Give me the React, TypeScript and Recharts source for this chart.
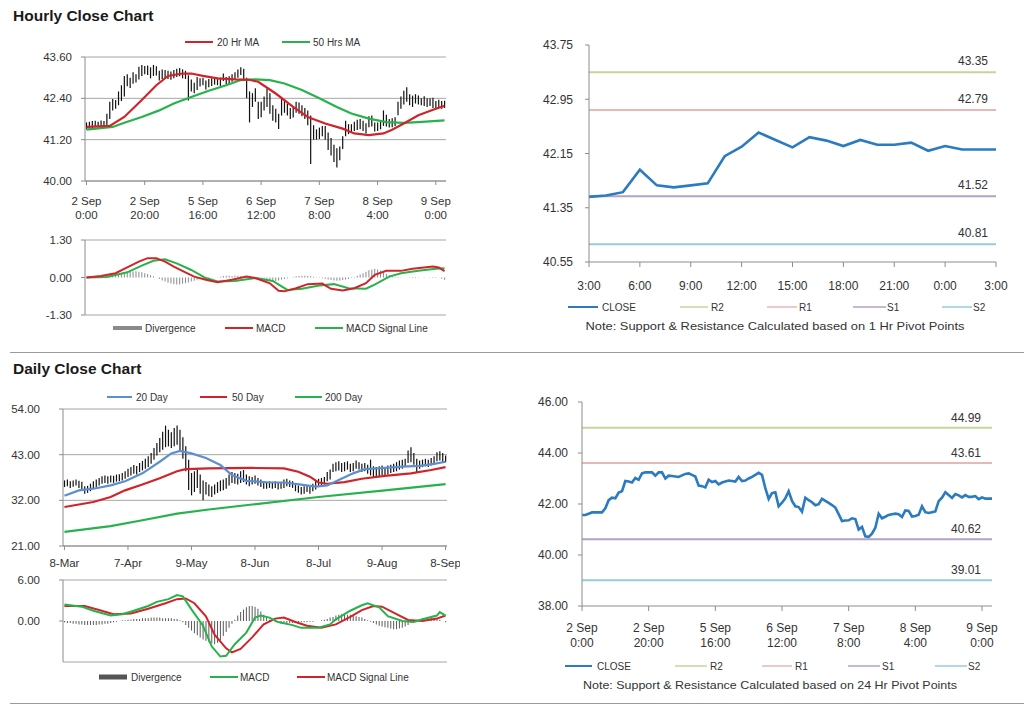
import React from 'react';
import { ComposedChart, LineChart, Line, Bar, XAxis, YAxis, CartesianGrid, ReferenceLine } from 'recharts';

// ---------------- DATA ----------------
const hourlyClose = [
  41.57, 41.57, 41.62, 41.67, 41.67, 41.67, 41.67, 41.83, 42.15, 42.25,
  42.22, 42.45, 42.5, 42.9, 42.88, 42.84, 43.02, 42.95, 43.2, 43.24,
  43.24, 43.24, 43.11, 43.24, 43.24, 43.0, 43.11, 43.1, 43.08, 43.06,
  43.12, 43.18, 43.2, 43.14, 43.08, 42.72, 42.7, 42.65, 42.95, 42.86,
  42.9, 42.77, 42.84, 42.88, 42.92, 42.9, 42.88, 43.06, 42.9, 42.92,
  43.0, 43.06, 43.14, 43.22, 43.14, 42.62, 42.2, 42.43, 42.46, 41.91,
  42.05, 42.22, 42.5, 42.12, 41.91, 41.88, 41.7, 42.25, 42.15, 42.07,
  41.95, 41.99, 42.2, 42.12, 42.04, 41.96, 41.86, 41.6, 41.33, 41.35,
  41.36, 41.44, 41.41, 41.0, 41.1, 40.73, 40.71, 40.84, 41.07, 41.62,
  41.44, 41.5, 41.57, 41.6, 41.62, 41.6, 41.49, 41.75, 41.73,
  41.51, 41.53, 41.58, 41.91, 41.68, 41.65, 41.68, 41.71, 42.11, 42.25,
  42.46, 42.35, 42.24, 42.39, 42.34, 42.26, 42.35, 42.28, 42.28, 42.31,
  42.19, 42.26, 42.21, 42.21, 42.21,
];
const hourlyHigh = [
  41.7, 41.72, 41.74, 41.75, 41.72, 41.76, 41.74, 41.95, 42.3, 42.38,
  42.35, 42.6, 42.78, 43.05, 43.1, 43.0, 43.16, 43.1, 43.32, 43.37,
  43.34, 43.35, 43.3, 43.37, 43.33, 43.2, 43.24, 43.22, 43.2, 43.18,
  43.22, 43.26, 43.28, 43.24, 43.2, 43.07, 42.95, 42.85, 43.02, 42.98,
  43.0, 42.92, 42.96, 42.98, 43.02, 43.0, 43.0, 43.12, 43.02, 43.04,
  43.1, 43.16, 43.24, 43.3, 43.26, 43.0, 42.6, 42.55, 42.69, 42.3,
  42.3, 42.45, 42.68, 42.55, 42.2, 42.1, 41.95, 42.4, 42.38, 42.25,
  42.12, 42.15, 42.3, 42.28, 42.2, 42.12, 42.05, 41.9, 41.62, 41.5,
  41.55, 41.6, 41.6, 41.41, 41.25, 41.05, 40.95, 41.0, 41.3, 41.75,
  41.65, 41.65, 41.72, 41.78, 41.8, 41.75, 41.68, 41.88, 41.9, 41.7,
  41.7, 41.72, 42.05, 41.92, 41.8, 41.82, 41.85, 42.3, 42.45, 42.62,
  42.72, 42.52, 42.48, 42.52, 42.48, 42.4, 42.46, 42.4, 42.4, 42.42,
  42.32, 42.36, 42.32, 42.33,
];
const hourlyLow = [
  41.5, 41.52, 41.52, 41.56, 41.58, 41.56, 41.58, 41.62, 41.8, 42.05,
  42.1, 42.2, 42.32, 42.45, 42.75, 42.7, 42.82, 42.86, 42.95, 43.05,
  43.1, 43.08, 42.98, 43.05, 43.06, 42.92, 42.96, 42.98, 42.96, 42.94,
  42.98, 43.02, 43.04, 42.98, 42.96, 42.34, 42.6, 42.55, 42.64, 42.74,
  42.78, 42.66, 42.72, 42.76, 42.8, 42.78, 42.76, 42.9, 42.8, 42.8,
  42.88, 42.94, 43.0, 43.08, 42.95, 42.4, 41.7, 42.15, 42.3, 41.8,
  41.85, 42.05, 42.15, 41.95, 41.75, 41.7, 41.51, 41.9, 41.98, 41.9,
  41.8, 41.84, 41.98, 41.95, 41.88, 41.8, 41.62, 40.49, 41.2, 41.2,
  41.22, 41.3, 41.2, 40.9, 40.74, 40.55, 40.39, 40.6, 40.93, 41.3,
  41.36, 41.4, 41.45, 41.48, 41.5, 41.45, 41.38, 41.56, 41.58, 41.44,
  41.45, 41.5, 41.6, 41.58, 41.55, 41.56, 41.6, 41.91, 42.1, 42.22,
  42.3, 42.2, 42.15, 42.25, 42.22, 42.2, 42.18, 42.15, 42.18, 42.12,
  42.08, 42.12, 42.1, 42.12,
];
// [hour index, value]
const hourlyMa20 = [
  [0, 41.57], [8, 41.6], [13, 41.86], [19, 42.35], [24, 42.78], [28, 43.05], [33, 43.12],
  [36, 43.12], [40, 43.05], [45, 42.98], [51, 42.95], [56, 42.94], [59, 42.88], [65, 42.54],
  [71, 42.15], [76, 41.86], [82, 41.67], [88, 41.52], [92, 41.38], [97, 41.33], [102, 41.38],
  [105, 41.49], [109, 41.67], [114, 41.91], [120, 42.1], [123, 42.18],
];
const hourlyMa50 = [
  [0, 41.49], [9, 41.57], [13, 41.69], [19, 41.86], [25, 42.05], [30, 42.25], [36, 42.44],
  [42, 42.62], [48, 42.78], [53, 42.93], [58, 42.95], [63, 42.93], [68, 42.83], [74, 42.64],
  [80, 42.4], [86, 42.15], [91, 41.96], [97, 41.81], [103, 41.71], [109, 41.69], [114, 41.71],
  [123, 41.76],
];
const hourlyMacd = [
  [0, 0], [5, 0.05], [10, 0.15], [14, 0.35], [18, 0.55], [21, 0.67], [24, 0.67], [27, 0.55],
  [30, 0.38], [34, 0.18], [37, 0.03], [41, -0.08], [45, -0.16], [50, -0.08], [55, 0.03],
  [58, -0.02], [63, -0.2], [66, -0.46], [68, -0.48], [72, -0.37], [76, -0.23], [81, -0.21],
  [84, -0.39], [88, -0.45], [92, -0.37], [96, -0.2], [99, 0.09], [103, 0.23], [108, 0.23],
  [112, 0.3], [119, 0.38], [121, 0.35], [123, 0.22],
];
const hourlySignal = [
  [0, 0], [7, 0.02], [14, 0.18], [19, 0.41], [23, 0.58], [27, 0.63], [31, 0.49], [36, 0.26],
  [41, -0.02], [45, -0.14], [51, -0.12], [58, -0.02], [64, -0.12], [69, -0.43], [74, -0.39],
  [80, -0.28], [85, -0.23], [90, -0.37], [96, -0.39], [99, -0.25], [104, 0.03], [108, 0.15],
  [114, 0.23], [120, 0.3], [123, 0.32],
];
const hourlyDivergence = [
  0, 0.01, 0.02, 0.02, 0.03, 0.03, 0.04, 0.05, 0.06, 0.08,
  0.1, 0.12, 0.14, 0.16, 0.18, 0.2, 0.21, 0.22, 0.2, 0.18,
  0.15, 0.12, 0.08, 0.04, 0, -0.05, -0.1, -0.14, -0.18, -0.21,
  -0.23, -0.24, -0.24, -0.22, -0.2, -0.17, -0.14, -0.11, -0.08, -0.06,
  -0.05, -0.03, -0.02, -0.01, 0, 0.01, 0.03, 0.05, 0.06, 0.06,
  0.05, 0.06, 0.06, 0.05, 0.04, 0.03, 0.01, 0, -0.02, -0.04,
  -0.06, -0.08, -0.1, -0.12, -0.13, -0.12, -0.1, -0.07, -0.05, -0.03,
  0, 0.02, 0.04, 0.05, 0.06, 0.06, 0.05, 0.04, 0.03, 0.01,
  -0.01, -0.03, -0.05, -0.07, -0.09, -0.1, -0.11, -0.1, -0.09, -0.07,
  -0.05, -0.02, 0.02, 0.06, 0.1, 0.15, 0.2, 0.25, 0.28, 0.3,
  0.28, 0.24, 0.18, 0.12, 0.08, 0.05, 0.03, 0.02, 0.01, 0,
  0, 0.01, 0.02, 0.02, 0.01, 0, -0.01, 0, 0.01, 0.02,
  0.02, 0, -0.04, -0.08,
];
const lastDayClose = [
  41.51, 41.53, 41.58, 41.91, 41.68, 41.65, 41.68, 41.71, 42.11, 42.25,
  42.46, 42.35, 42.24, 42.39, 42.34, 42.26, 42.35, 42.28, 42.28, 42.31,
  42.19, 42.26, 42.21, 42.21, 42.21,
];
const dailyHigh = [
  36.8, 37.0, 36.6, 36.8, 37.0, 36.7, 36.5, 35.4, 35.5, 36.0,
  36.6, 37.0, 37.4, 37.8, 38.0, 37.8, 38.0, 37.9, 38.2, 38.3,
  38.6, 39.0, 39.6, 40.0, 40.5, 40.3, 41.0, 41.5, 42.0, 42.6,
  43.4, 44.6, 45.8, 47.0, 48.5, 50.0, 49.0, 48.4, 49.4, 50.0,
  49.0, 47.2, 45.0, 41.8, 38.6, 39.0, 39.6, 38.2, 36.8, 36.4,
  35.8, 35.4, 35.8, 36.4, 36.8, 37.0, 37.4, 38.2, 38.8, 38.6,
  38.4, 39.0, 39.3, 38.2, 37.8, 37.6, 38.0, 37.4, 37.0, 36.6,
  36.4, 36.6, 36.5, 36.6, 36.2, 36.4, 37.0, 37.2, 36.8, 36.6,
  36.0, 35.6, 35.2, 35.4, 35.6, 35.2, 36.0, 36.8, 37.2, 37.4,
  37.6, 38.8, 39.4, 40.8, 41.2, 41.4, 41.0, 41.2, 41.4, 40.8,
  41.0, 41.6, 41.2, 40.8, 41.0, 40.6, 41.8, 40.2, 40.0, 40.2,
  40.4, 40.0, 40.4, 40.6, 40.8, 41.2, 41.6, 41.8, 42.0, 44.0,
  44.8, 43.4, 42.0, 41.6, 41.8, 42.0, 41.8, 42.2, 42.6, 43.6,
  43.8, 43.4, 42.8,
];
const dailyLow = [
  35.2, 35.4, 35.0, 35.3, 35.6, 35.0, 34.6, 33.6, 33.8, 34.2,
  34.8, 35.2, 35.6, 36.0, 36.2, 36.0, 36.3, 36.2, 36.5, 36.6,
  36.8, 37.2, 37.6, 38.0, 38.4, 38.2, 38.8, 39.2, 39.6, 40.0,
  40.8, 41.8, 42.8, 43.6, 44.2, 44.8, 45.0, 44.6, 45.0, 45.4,
  43.8, 42.0, 39.0, 34.5, 33.2, 34.0, 35.0, 33.6, 32.0, 33.4,
  33.0, 32.8, 33.4, 33.8, 34.2, 34.4, 34.8, 35.6, 36.2, 36.0,
  35.8, 36.2, 36.4, 35.8, 35.4, 35.8, 36.0, 35.6, 35.2, 34.8,
  34.8, 35.0, 34.8, 35.0, 34.6, 34.8, 35.0, 35.4, 35.2, 35.0,
  34.2, 33.8, 33.4, 33.6, 34.0, 33.6, 34.2, 34.6, 35.2, 35.6,
  35.8, 36.6, 37.0, 38.8, 39.0, 39.2, 38.8, 39.0, 39.4, 38.8,
  39.0, 39.6, 39.4, 38.8, 39.0, 38.4, 38.0, 37.6, 37.8, 37.6,
  38.0, 37.8, 38.2, 38.6, 38.8, 39.0, 39.4, 39.6, 40.0, 41.0,
  41.2, 40.6, 38.8, 39.6, 40.0, 40.2, 40.0, 40.4, 40.6, 41.4,
  41.6, 41.0, 41.2,
];
// [day index, value]
const dailyMa20 = [
  [0, 33.1], [5, 34.4], [10, 34.8], [16, 35.6], [21, 36.6], [27, 38.5], [33, 41.3], [37, 43.3],
  [40, 43.9], [44, 43.3], [49, 42.2], [54, 40.5], [58, 38.1], [63, 36.7], [71, 36.3], [76, 36.3],
  [82, 35.8], [87, 35.3], [91, 35.6], [95, 36.9], [100, 38.5], [104, 39.5], [111, 39.8],
  [117, 40.1], [123, 40.3], [128, 40.8], [132, 41.3],
];
const dailyMa50 = [
  [0, 30.4], [10, 31.6], [16, 32.8], [21, 34.4], [27, 35.8], [33, 37.3], [39, 39.0], [42, 39.5],
  [50, 39.7], [65, 39.8], [76, 39.7], [81, 38.9], [85, 37.7], [88, 36.3], [91, 36.0], [97, 36.4],
  [103, 37.2], [111, 37.9], [120, 38.5], [127, 39.3], [132, 40.0],
];
const dailyMa200 = [
  [0, 24.4], [16, 25.8], [27, 27.2], [39, 28.8], [50, 29.8], [65, 31.0], [88, 32.8], [111, 34.4],
  [132, 35.9],
];
const dailyMacd = [
  [0, 2.4], [6, 2.1], [10, 1.5], [16, 0.8], [20, 1.0], [24, 1.5], [29, 2.2], [32, 2.8], [36, 3.2],
  [39, 3.8], [41, 3.6], [44, 1.7], [48, -0.7], [51, -3.7], [54, -5.2], [56, -5.1], [59, -3.4],
  [63, -1.7], [66, 0.5], [68, 0.8], [71, 0.5], [74, -0.15], [79, -0.6], [82, -1.0], [88, -1.0],
  [92, -0.5], [94, 0.25], [99, 1.5], [103, 2.3], [105, 2.6], [109, 2.0], [112, 0.7], [117, 0],
  [121, -0.15], [124, 0.25], [129, 0.8], [130, 1.3], [132, 0.8],
];
const dailySignal = [
  [0, 2.2], [7, 2.2], [12, 1.6], [17, 1.0], [23, 1.1], [29, 1.8], [35, 2.6], [39, 3.2], [42, 3.3],
  [45, 2.6], [49, 0.7], [52, -2.0], [56, -4.0], [58, -4.6], [61, -4.1], [65, -2.4], [69, -0.5],
  [73, 0.35], [76, 0.5], [80, -0.15], [84, -0.7], [89, -1.0], [94, -0.5], [99, 0.6], [103, 1.6],
  [107, 2.2], [110, 2.1], [115, 1.0], [119, 0.15], [124, 0], [129, 0.35], [132, 0.8],
];
const dailyDivergence = [
  -0.2, -0.3, -0.3, -0.4, -0.4, -0.5, -0.5, -0.6, -0.6, -0.6,
  -0.6, -0.6, -0.5, -0.5, -0.4, -0.4, -0.3, -0.2, -0.1, 0,
  0.1, 0.1, 0.2, 0.2, 0.3, 0.3, 0.3, 0.4, 0.4, 0.4,
  0.5, 0.5, 0.5, 0.5, 0.4, 0.4, 0.4, 0.4, 0.3, 0.3,
  0.1, -0.2, -0.6, -1.0, -1.4, -1.8, -2.1, -2.4, -2.7, -2.9,
  -3.1, -3.3, -3.4, -3.2, -2.8, -2.2, -1.6, -1.0, -0.4, 0.2,
  0.8, 1.3, 1.7, 2.0, 2.2, 2.2, 2.1, 1.8, 1.4, 0.9,
  0.5, 0.2, 0, -0.2, -0.3, -0.4, -0.4, -0.4, -0.3, -0.3,
  -0.3, -0.3, -0.2, -0.2, -0.2, -0.1, -0.1, 0, 0, 0.1,
  0.2, 0.3, 0.5, 0.6, 0.8, 0.9, 1.0, 1.0, 0.9, 0.9,
  0.8, 0.7, 0.6, 0.5, 0.3, 0.1, -0.1, -0.3, -0.5, -0.7,
  -0.8, -0.9, -1.0, -1.1, -1.2, -1.2, -1.1, -1.0, -0.8, -0.6,
  -0.3, 0, 0.2, 0.3, 0.4, 0.4, 0.5, 0.5, 0.4, 0.4,
  0.2, 0, -0.2,
];
const hourlyPivotValues = [43.35, 42.79, 41.52, 40.81];
const dailyPivotValues = [44.99, 43.61, 40.62, 39.01];
const pivotNames = ['R2', 'R1', 'S1', 'S2'];

const hourlyTickLabels = [
  ['2 Sep', '0:00'], ['2 Sep', '20:00'], ['5 Sep', '16:00'], ['6 Sep', '12:00'],
  ['7 Sep', '8:00'], ['8 Sep', '4:00'], ['9 Sep', '0:00'],
];
const lastDayTickLabels = ['3:00', '6:00', '9:00', '12:00', '15:00', '18:00', '21:00', '0:00', '3:00'];
const dailyTickLabels = ['8-Mar', '7-Apr', '9-May', '8-Jun', '8-Jul', '9-Aug', '8-Sep'];
const hourlyPriceTicks = [40, 41.2, 42.4, 43.6];
const hourlyMacdTicks = [-1.3, 0, 1.3];
const lastDayTicks = [40.55, 41.35, 42.15, 42.95, 43.75];
const dailyPriceTicks = [21, 32, 43, 54];
const dailyMacdTicks = [-6, 0, 6];
const sixDayTicks = [38, 40, 42, 44, 46];

// ---------------- STYLE ----------------
const FONT = '"Liberation Sans", Arial, Helvetica, sans-serif';
const TXT = '#333333';
const GRID = '#a6a6a6';
const AXIS = '#8c8c8c';
const RED = '#d2232a';
const GREEN = '#27b24b';
const BLUE_MA = '#5b8fd1';
const CLOSE_BLUE = '#2a7bc0';
const PIVOT_COLORS = ['#c3d69b', '#e6b9b8', '#b3a2c7', '#93cddd'];

// ---------------- TABLES ----------------
type Row = Record<string, any>;
function addSparse(rows: Row[], key: string, pts: number[][]) {
  rows.forEach((r) => { r[key] = null; });
  pts.forEach(([i, v]) => { if (rows[i]) rows[i][key] = v; });
}
const hourlyRows: Row[] = hourlyClose.map((c, i) => ({
  i, close: c, range: [hourlyLow[i], hourlyHigh[i]], div: hourlyDivergence[i],
}));
addSparse(hourlyRows, 'ma20', hourlyMa20);
addSparse(hourlyRows, 'ma50', hourlyMa50);
addSparse(hourlyRows, 'macd', hourlyMacd);
addSparse(hourlyRows, 'sig', hourlySignal);

const lastDayRows: Row[] = lastDayClose.map((c, i) => ({ i, close: c }));

const dailyRows: Row[] = dailyHigh.map((h, i) => ({ i, range: [dailyLow[i], h], div: dailyDivergence[i] }));
addSparse(dailyRows, 'ma20', dailyMa20);
addSparse(dailyRows, 'ma50', dailyMa50);
addSparse(dailyRows, 'ma200', dailyMa200);
addSparse(dailyRows, 'macd', dailyMacd);
addSparse(dailyRows, 'sig', dailySignal);

const f2 = (v: number) => Number(v).toFixed(2);

function CandleShape(props: any) {
  const { x, y, width, height } = props;
  if (x == null || y == null || isNaN(y)) return <g />;
  const cx = x + width / 2;
  const top = Math.min(y, y + height);
  const bot = Math.max(y, y + height);
  return <line x1={cx} x2={cx} y1={top} y2={bot} stroke="#111" strokeWidth={1.2} />;
}

const twoLineTick = (labels: string[][], step: number, fs: number, d1: number, d2: number) => (props: any) => {
  const { x, y, payload } = props;
  const k = Math.round(Number(payload.value) / step);
  const lab = labels[k];
  if (!lab) return <g />;
  return (
    <text x={x} y={y} textAnchor="middle" fill={TXT} fontSize={fs} fontFamily={FONT}>
      <tspan x={x} dy={d1}>{lab[0]}</tspan>
      <tspan x={x} dy={d2}>{lab[1]}</tspan>
    </text>
  );
};

const pivotLabel = (value: string, dx: number, up: number) => (props: any) => {
  const vb = props.viewBox || {};
  const right = (vb.x ?? 0) + (vb.width ?? 0);
  return (
    <text x={right - dx} y={(vb.y ?? 0) - up} textAnchor="end" fill={TXT} fontSize={12} fontFamily={FONT}>
      {value}
    </text>
  );
};

function Legend() {
  const T = (x: number, y: number, s: string) => (
    <text x={x} y={y + 3.6} fontSize={10} fill={TXT} fontFamily={FONT}>{s}</text>
  );
  const L = (x1: number, x2: number, y: number, c: string, w = 2) => (
    <line x1={x1} x2={x2} y1={y} y2={y} stroke={c} strokeWidth={w} />
  );
  return (
    <svg width={1024} height={706} style={{ position: 'absolute', left: 0, top: 0 }}>
      <text x={13} y={21} fontSize={15.5} fontWeight="bold" fill="#1a1a1a" fontFamily={FONT}>Hourly Close Chart</text>
      <text x={13} y={374} fontSize={15.5} fontWeight="bold" fill="#1a1a1a" fontFamily={FONT}>Daily Close Chart</text>
      <line x1={10} x2={1024} y1={352.5} y2={352.5} stroke="#9a9a9a" strokeWidth={1} />
      <line x1={10} x2={1024} y1={703.5} y2={703.5} stroke="#9a9a9a" strokeWidth={1} />

      {L(185, 213, 42, RED)}{T(217, 42, '20 Hr MA')}
      {L(282, 310, 42, GREEN)}{T(313, 42, '50 Hrs MA')}

      {L(113, 142, 328, '#8a8a8a', 4)}{T(145, 328, 'Divergence')}
      {L(225, 253, 328, RED)}{T(256, 328, 'MACD')}
      {L(315, 343, 328, GREEN)}{T(346, 328, 'MACD Signal Line')}

      {L(568, 598, 307, CLOSE_BLUE)}{T(602, 307, 'CLOSE')}
      {L(680, 708, 307, PIVOT_COLORS[0], 1.5)}{T(711, 307, pivotNames[0])}
      {L(767, 797, 307, PIVOT_COLORS[1], 1.5)}{T(799, 307, pivotNames[1])}
      {L(853, 886, 307, PIVOT_COLORS[2], 1.5)}{T(887, 307, pivotNames[2])}
      {L(942, 972, 307, PIVOT_COLORS[3], 1.5)}{T(973, 307, pivotNames[3])}
      <text x={775} y={330} textAnchor="middle" fontSize={11} fill={TXT} fontFamily={FONT} textLength={379} lengthAdjust="spacingAndGlyphs">Note: Support &amp; Resistance Calculated based on 1 Hr Pivot Points</text>

      {L(107, 132, 397, BLUE_MA)}{T(136, 397, '20 Day')}
      {L(200, 227, 397, RED)}{T(232, 397, '50 Day')}
      {L(295, 322, 397, GREEN)}{T(325, 397, '200 Day')}

      {L(99, 127, 677, '#555555', 5)}{T(131, 677, 'Divergence')}
      {L(210, 238, 677, GREEN)}{T(240, 677, 'MACD')}
      {L(297, 325, 677, RED)}{T(327, 677, 'MACD Signal Line')}

      {L(565, 592, 666, CLOSE_BLUE)}{T(597, 666, 'CLOSE')}
      {L(675, 707, 666, PIVOT_COLORS[0], 1.5)}{T(710, 666, pivotNames[0])}
      {L(762, 792, 666, PIVOT_COLORS[1], 1.5)}{T(795, 666, pivotNames[1])}
      {L(848, 880, 666, PIVOT_COLORS[2], 1.5)}{T(882, 666, pivotNames[2])}
      {L(935, 967, 666, PIVOT_COLORS[3], 1.5)}{T(968, 666, pivotNames[3])}
      <text x={770} y={689} textAnchor="middle" fontSize={11} fill={TXT} fontFamily={FONT} textLength={374} lengthAdjust="spacingAndGlyphs">Note: Support &amp; Resistance Calculated based on 24 Hr Pivot Points</text>
    </svg>
  );
}

const yTick = (fs: number) => ({ fill: TXT, fontSize: fs, fontFamily: FONT });

export default function App() {
  return (
    <div style={{ position: 'absolute', left: 0, top: 0, width: 1024, height: 706, background: '#fff', fontFamily: FONT, overflow: 'hidden' }}>
      <Legend />

      {/* Hourly price */}
      <div style={{ position: 'absolute', left: 0, top: 50 }}>
        <ComposedChart width={460} height={175} data={hourlyRows} margin={{ top: 7, right: 14, bottom: 0, left: 0 }} barCategoryGap={0}>
          <CartesianGrid vertical={false} stroke={GRID} />
          <XAxis dataKey="i" type="category" interval={19} height={44} stroke={AXIS} tickSize={4} tickMargin={4}
            tick={twoLineTick(hourlyTickLabels, 20, 11.5, 16, 14)} />
          <YAxis type="number" domain={[40, 43.6]} ticks={hourlyPriceTicks} width={85} stroke={AXIS} tickSize={4} tickMargin={9}
            tickFormatter={f2} tick={yTick(11.5)} />
          <Bar dataKey="range" shape={CandleShape} isAnimationActive={false} />
          <Line dataKey="ma50" stroke={GREEN} strokeWidth={2.2} dot={false} activeDot={false} connectNulls isAnimationActive={false} />
          <Line dataKey="ma20" stroke={RED} strokeWidth={2.2} dot={false} activeDot={false} connectNulls isAnimationActive={false} />
        </ComposedChart>
      </div>

      {/* Hourly MACD */}
      <div style={{ position: 'absolute', left: 0, top: 232 }}>
        <ComposedChart width={460} height={90} data={hourlyRows} margin={{ top: 8, right: 14, bottom: 7, left: 0 }} barCategoryGap={0}>
          <XAxis dataKey="i" type="category" hide />
          <YAxis type="number" domain={[-1.3, 1.3]} ticks={hourlyMacdTicks} width={85} stroke={AXIS} tickSize={4} tickMargin={9}
            tickFormatter={f2} tick={yTick(11.5)} />
          <ReferenceLine y={1.3} stroke={GRID} />
          <ReferenceLine y={-1.3} stroke={GRID} />
          <Bar dataKey="div" fill="#8a8a8a" barSize={1} isAnimationActive={false} />
          <Line dataKey="sig" stroke={GREEN} strokeWidth={2} dot={false} activeDot={false} connectNulls isAnimationActive={false} />
          <Line dataKey="macd" stroke={RED} strokeWidth={2} dot={false} activeDot={false} connectNulls isAnimationActive={false} />
        </ComposedChart>
      </div>

      {/* Last day hourly close with pivots */}
      <div style={{ position: 'absolute', left: 520, top: 35 }}>
        <LineChart width={500} height={265} data={lastDayRows} margin={{ top: 10, right: 24, bottom: 0, left: 0 }}>
          <XAxis dataKey="i" type="category" interval={2} height={38} stroke={AXIS} tickSize={5} tickMargin={14}
            tickFormatter={(v: any) => lastDayTickLabels[Math.round(Number(v) / 3)] ?? ''} tick={yTick(12)} />
          <YAxis type="number" domain={[40.55, 43.75]} ticks={lastDayTicks} width={69} stroke={AXIS} tickSize={4} tickMargin={12}
            tickFormatter={f2} tick={yTick(12)} />
          {hourlyPivotValues.map((v, k) => (
            <ReferenceLine key={k} y={v} stroke={PIVOT_COLORS[k]} strokeWidth={2} label={pivotLabel(f2(v), 8, 7)} />
          ))}
          <Line dataKey="close" stroke={CLOSE_BLUE} strokeWidth={2.6} dot={false} activeDot={false} isAnimationActive={false} />
        </LineChart>
      </div>

      {/* Daily price */}
      <div style={{ position: 'absolute', left: 0, top: 400 }}>
        <ComposedChart width={460} height={175} data={dailyRows} margin={{ top: 9, right: 13, bottom: 0, left: 0 }} barCategoryGap={0}>
          <CartesianGrid vertical={false} stroke={GRID} />
          <XAxis dataKey="i" type="category" interval={21} height={29} stroke={AXIS} tickSize={4} tickMargin={9}
            tickFormatter={(v: any) => dailyTickLabels[Math.round(Number(v) / 22)] ?? ''} tick={yTick(11.5)} />
          <YAxis type="number" domain={[21, 54]} ticks={dailyPriceTicks} width={63} stroke={AXIS} tickSize={4} tickMargin={19}
            tickFormatter={f2} tick={yTick(11.5)} />
          <Bar dataKey="range" shape={CandleShape} isAnimationActive={false} />
          <Line dataKey="ma200" stroke={GREEN} strokeWidth={2.2} dot={false} activeDot={false} connectNulls isAnimationActive={false} />
          <Line dataKey="ma50" stroke={RED} strokeWidth={2.2} dot={false} activeDot={false} connectNulls isAnimationActive={false} />
          <Line dataKey="ma20" stroke={BLUE_MA} strokeWidth={2.2} dot={false} activeDot={false} connectNulls isAnimationActive={false} />
        </ComposedChart>
      </div>

      {/* Daily MACD */}
      <div style={{ position: 'absolute', left: 0, top: 572 }}>
        <ComposedChart width={460} height={95} data={dailyRows} margin={{ top: 8, right: 13, bottom: 5, left: 0 }} barCategoryGap={0}>
          <XAxis dataKey="i" type="category" hide />
          <YAxis type="number" domain={[-6, 6]} ticks={dailyMacdTicks} width={63} stroke={AXIS} tickSize={4} tickMargin={19}
            tickFormatter={f2} tick={yTick(11.5)} />
          <ReferenceLine y={6} stroke={GRID} />
          <ReferenceLine y={-6} stroke={GRID} />
          <Bar dataKey="div" fill="#5a5a5a" barSize={1} isAnimationActive={false} />
          <Line dataKey="sig" stroke={RED} strokeWidth={2} dot={false} activeDot={false} connectNulls isAnimationActive={false} />
          <Line dataKey="macd" stroke={GREEN} strokeWidth={2} dot={false} activeDot={false} connectNulls isAnimationActive={false} />
        </ComposedChart>
      </div>

      {/* Six-day hourly close with daily pivots */}
      <div style={{ position: 'absolute', left: 520, top: 392 }}>
        <LineChart width={500} height={265} data={hourlyRows} margin={{ top: 10, right: 28, bottom: 0, left: 0 }}>
          <XAxis dataKey="i" type="category" interval={19} height={51} stroke={AXIS} tickSize={5} tickMargin={4}
            tick={twoLineTick(hourlyTickLabels, 20, 12, 16.5, 15)} />
          <YAxis type="number" domain={[38, 46]} ticks={sixDayTicks} width={62} stroke={AXIS} tickSize={4} tickMargin={10}
            tickFormatter={f2} tick={yTick(12)} />
          {dailyPivotValues.map((v, k) => (
            <ReferenceLine key={k} y={v} stroke={PIVOT_COLORS[k]} strokeWidth={2} label={pivotLabel(f2(v), 11, 6)} />
          ))}
          <Line dataKey="close" stroke={CLOSE_BLUE} strokeWidth={2.6} dot={false} activeDot={false} isAnimationActive={false} />
        </LineChart>
      </div>
    </div>
  );
}
